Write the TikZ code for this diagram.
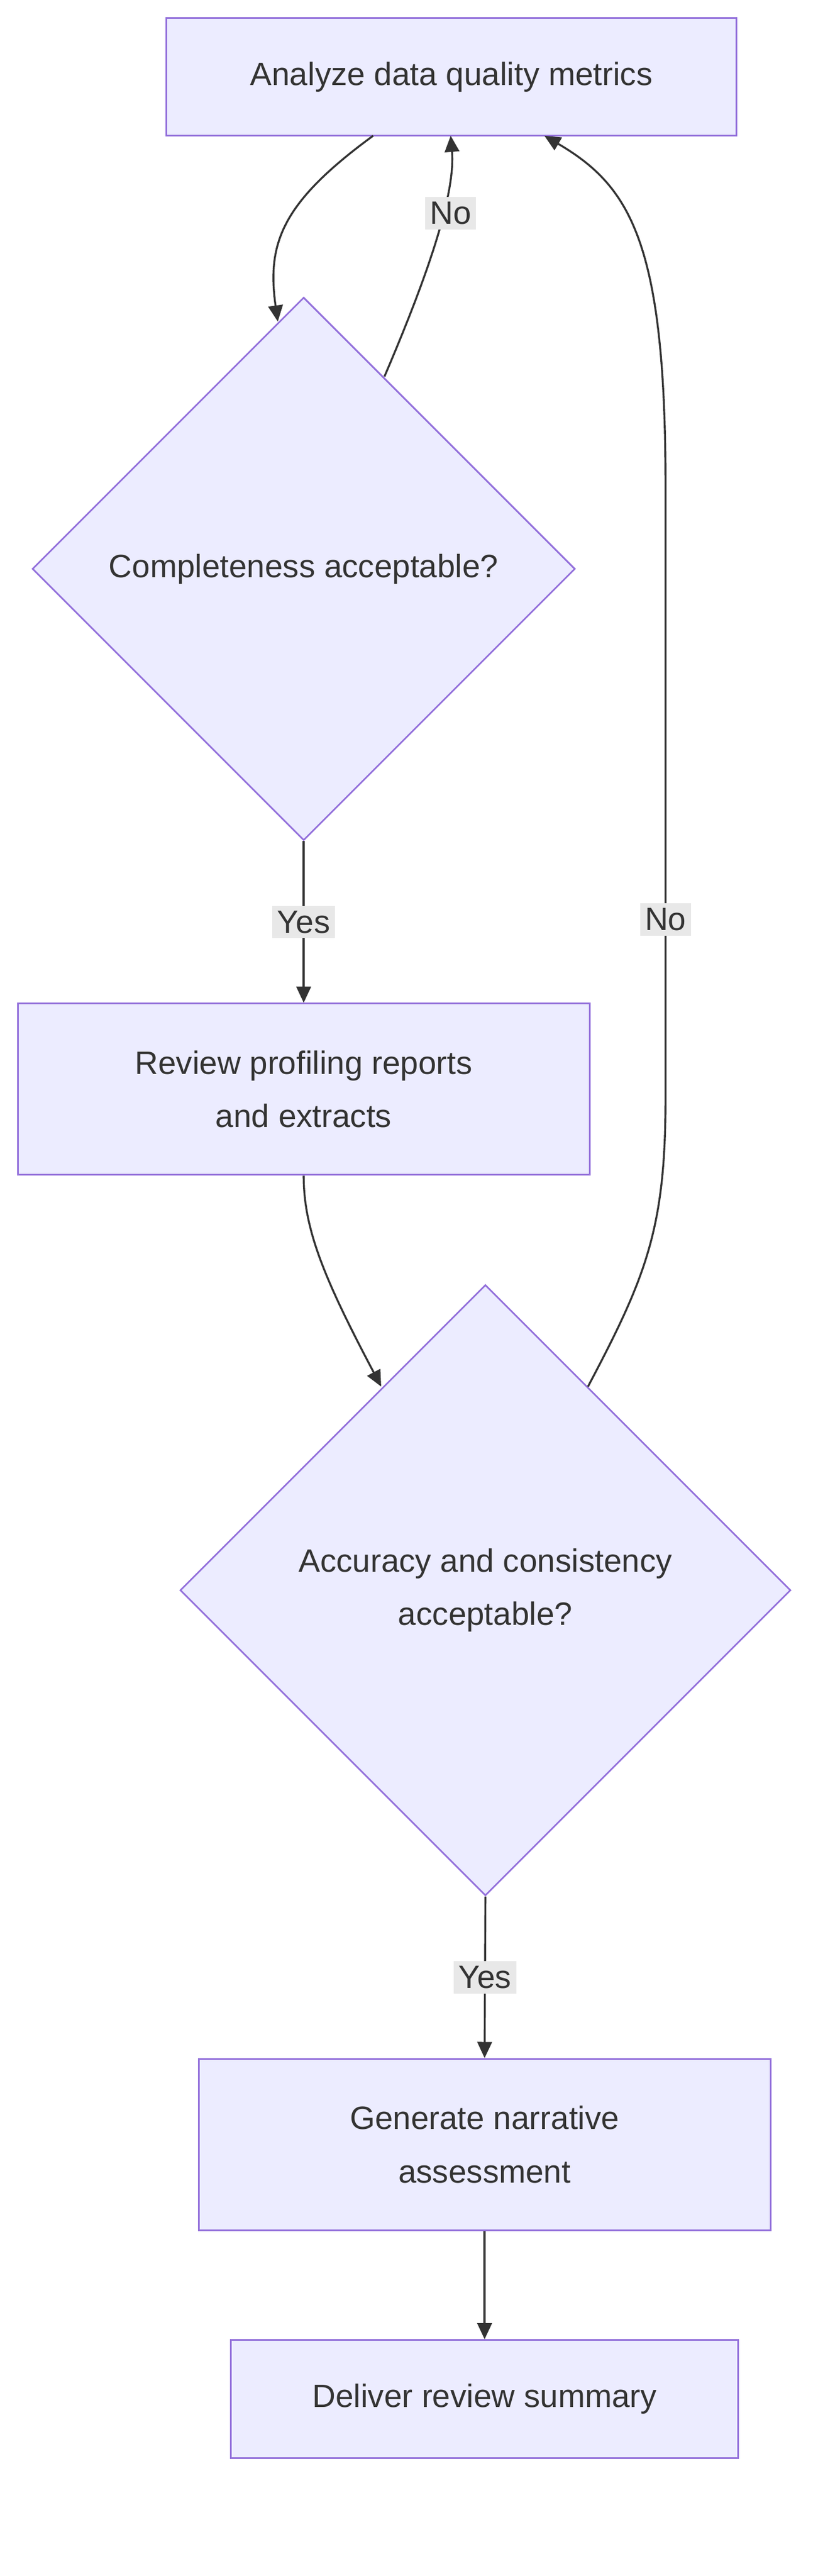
\documentclass[tikz,border=0pt]{standalone}
\usepackage{fontspec}
\setmainfont{Liberation Sans}
\usetikzlibrary{shapes.geometric,arrows.meta}
\definecolor{nf}{HTML}{ECECFF}
\definecolor{nd}{HTML}{9370DB}
\definecolor{tx}{HTML}{333333}
\definecolor{lb}{HTML}{E8E8E8}
\begin{document}
\begin{tikzpicture}[x=1pt,y=-1pt,
  box/.style={draw=nd,fill=nf,line width=1pt,text=tx,font=\fontsize{20}{33}\selectfont,align=center,inner sep=0},
  lab/.style={fill=lb,text=tx,font=\fontsize{20}{24}\selectfont,inner sep=3pt},
  e/.style={draw=tx,line width=1.2pt,-{Triangle[length=10pt,width=9pt]}}]
\useasboundingbox (0,0) rectangle (520,1594);
\node[box,minimum width=353pt,minimum height=73pt] (a) at (279.5,47.5) {Analyze data quality metrics};
\node[box,diamond,minimum width=336pt,minimum height=336pt] (d1) at (188,352) {Completeness acceptable?};
\node[box,minimum width=354pt,minimum height=106pt] (b) at (188,674) {Review profiling reports\\and extracts};
\node[box,diamond,minimum width=378pt,minimum height=378pt] (d2) at (300.5,984) {Accuracy and consistency\\acceptable?};
\node[box,minimum width=354pt,minimum height=106pt] (c) at (300,1327) {Generate narrative\\assessment};
\node[box,minimum width=314pt,minimum height=73pt] (f) at (300,1484.5) {Deliver review summary};
\coordinate (a1) at (231,84);
\coordinate (d1t) at (172,199);
\coordinate (d1r) at (238,233);
\coordinate (a2) at (279,84);
\coordinate (a3) at (337,84);
\coordinate (d2l) at (236,858);
\coordinate (d2r) at (364,858);
\draw[e] (a1) .. controls (175,125) and (165,150) .. (d1t);
\draw[e] (d1r) .. controls (265,170) and (282,120) .. (a2);
\node[lab] at (279,132) {No};
\draw[e] (d1.south) -- (b.north) node[lab,midway] {Yes};
\draw[e] (b.south) .. controls (188,760) and (200,790) .. (d2l);
\draw[e] (d2r) .. controls (400,790) and (412,760) .. (412,680) -- (412,300) .. controls (412,150) and (390,115) .. (a3);
\node[lab] at (412,569) {No};
\draw[e] (d2.south) -- (c.north) node[lab,midway] {Yes};
\draw[e] (c.south) -- (f.north);
\end{tikzpicture}
\end{document}
